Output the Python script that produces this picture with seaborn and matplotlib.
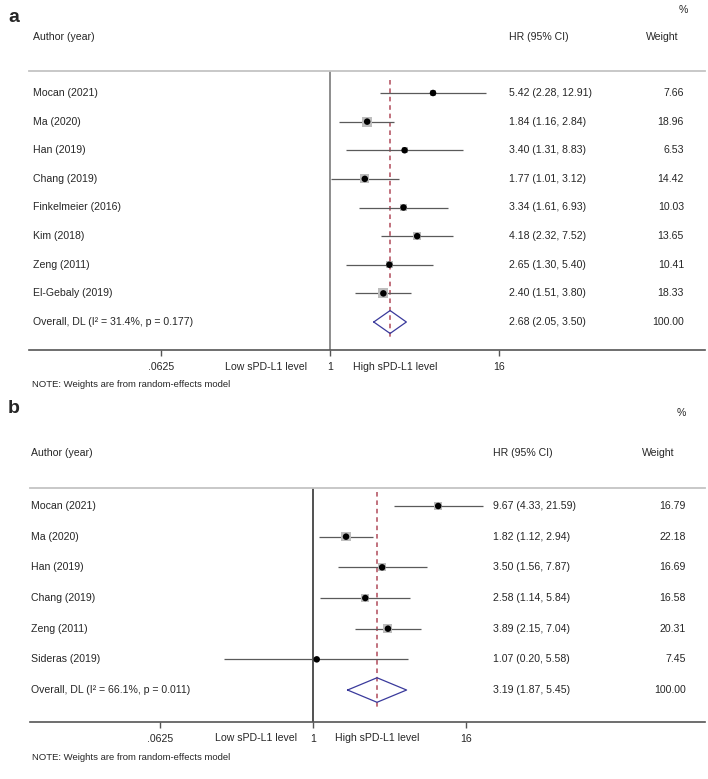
import matplotlib
matplotlib.use("Agg")
import matplotlib.pyplot as plt
import matplotlib.transforms as mtrans
from matplotlib.ticker import NullLocator
import pandas as pd
import seaborn as sns

# ---- panel a data ----
a_studies = ["Mocan (2021)", "Ma (2020)", "Han (2019)", "Chang (2019)",
             "Finkelmeier (2016)", "Kim (2018)", "Zeng (2011)", "El-Gebaly (2019)"]
a_hr = [5.42, 1.84, 3.40, 1.77, 3.34, 4.18, 2.65, 2.40]
a_lo = [2.28, 1.16, 1.31, 1.01, 1.61, 2.32, 1.30, 1.51]
a_hi = [12.91, 2.84, 8.83, 3.12, 6.93, 7.52, 5.40, 3.80]
a_weight = [7.66, 18.96, 6.53, 14.42, 10.03, 13.65, 10.41, 18.33]
a_overall = [2.68, 2.05, 3.50]
a_overall_label = "Overall, DL (I² = 31.4%, p = 0.177)"

# ---- panel b data ----
b_studies = ["Mocan (2021)", "Ma (2020)", "Han (2019)", "Chang (2019)",
             "Zeng (2011)", "Sideras (2019)"]
b_hr = [9.67, 1.82, 3.50, 2.58, 3.89, 1.07]
b_lo = [4.33, 1.12, 1.56, 1.14, 2.15, 0.20]
b_hi = [21.59, 2.94, 7.87, 5.84, 7.04, 5.58]
b_weight = [16.79, 22.18, 16.69, 16.58, 20.31, 7.45]
b_overall = [3.19, 1.87, 5.45]
b_overall_label = "Overall, DL (I² = 66.1%, p = 0.011)"

tick_values = [0.0625, 1, 16]
tick_labels = [".0625", "1", "16"]
low_label = "Low sPD-L1 level"
high_label = "High sPD-L1 level"
note = "NOTE: Weights are from random-effects model"

W, H = 708, 779
FS = 7.6

sns.set_style("white")
plt.rcParams["font.family"] = ["Liberation Sans", "DejaVu Sans"]

fig = plt.figure(figsize=(W / 100, H / 100), dpi=100)


def fx(px):
    return px / W


def fy(py):
    return 1 - py / H


def draw_panel(letter, studies, hr, lo, hi, weight, overall, overall_label, lay):
    left, right, top, bottom = lay["left"], lay["right"], lay["top"], lay["bottom"]
    ax = fig.add_axes([fx(left), fy(bottom), (right - left) / W, (bottom - top) / H])

    n = len(studies)
    df = pd.DataFrame({"hr": hr, "lo": lo, "hi": hi, "weight": weight,
                       "row": list(range(n))})

    # confidence intervals
    ax.hlines(df["row"], df["lo"], df["hi"], color="#5a5a5a", lw=0.9, zorder=2)
    # weight squares
    wmax = max(weight)
    sns.scatterplot(data=df, x="hr", y="row", size="weight",
                    sizes=(0, lay["sq"] * wmax), size_norm=(0, wmax),
                    marker="s", color="#bdbdbd", edgecolor="none",
                    legend=False, ax=ax, zorder=3)
    # point estimates
    sns.scatterplot(data=df, x="hr", y="row", color="black", s=22,
                    marker="o", edgecolor="none", legend=False, ax=ax, zorder=4)

    # overall diamond
    est, olo, ohi = overall
    ax.plot([olo, est, ohi, est, olo], [n, n - 0.4, n, n + 0.4, n],
            color="#3a3a9c", lw=0.9, zorder=4)
    # overall dashed line
    ax.plot([est, est], [-0.45, n + 0.55], color="#b04a5a", lw=1.1,
            dashes=(3, 2.5), zorder=1)
    # null line
    ax.axvline(1, color=lay["null_color"], lw=1.2, zorder=1)

    ax.set_xscale("log", base=2)
    ax.set_xlim(2 ** ((left - lay["one"]) / lay["dbl"]),
                2 ** ((right - lay["one"]) / lay["dbl"]))
    ax.set_ylim((bottom - lay["row0"]) / lay["step"], (top - lay["row0"]) / lay["step"])
    ax.set_xticks(tick_values)
    ax.set_xticklabels(tick_labels)
    ax.xaxis.set_minor_locator(NullLocator())
    ax.set_yticks([])
    ax.set_xlabel("")
    ax.set_ylabel("")
    ax.tick_params(axis="x", length=4, width=1, color="#555555", pad=5,
                   labelsize=FS, bottom=True)
    for s in ["left", "right"]:
        ax.spines[s].set_visible(False)
    ax.spines["top"].set_color("#c4c4c4")
    ax.spines["top"].set_linewidth(1.3)
    ax.spines["bottom"].set_color("#555555")
    ax.spines["bottom"].set_linewidth(1.2)

    tr = mtrans.blended_transform_factory(fig.transFigure, ax.transData)
    labels = studies + [overall_label]
    hr_text = [f"{h:.2f} ({l:.2f}, {u:.2f})" for h, l, u in zip(hr, lo, hi)]
    hr_text.append(f"{est:.2f} ({olo:.2f}, {ohi:.2f})")
    w_text = [f"{w:.2f}" for w in weight] + ["100.00"]
    for i in range(n + 1):
        ax.text(fx(lay["name_x"]), i, labels[i], transform=tr, fontsize=FS,
                va="center", ha="left")
        ax.text(fx(lay["hr_x"]), i, hr_text[i], transform=tr, fontsize=FS,
                va="center", ha="left")
        ax.text(fx(lay["w_x"]), i, w_text[i], transform=tr, fontsize=FS,
                va="center", ha="right")

    # headers
    fig.text(fx(8), fy(lay["letter_y"]), letter, fontsize=14, fontweight="bold",
             va="center", ha="left")
    fig.text(fx(lay["pct_x"]), fy(lay["pct_y"]), "%", fontsize=FS, va="center", ha="right")
    fig.text(fx(lay["name_x"]), fy(lay["head_y"]), "Author (year)", fontsize=FS, va="center")
    fig.text(fx(lay["hr_x"]), fy(lay["head_y"]), "HR (95% CI)", fontsize=FS, va="center")
    fig.text(fx(lay["wh_x"]), fy(lay["head_y"]), "Weight", fontsize=FS, va="center",
             ha="center")

    # direction labels and note
    fig.text(fx(lay["low_x"]), fy(lay["tick_y"]), low_label, fontsize=FS,
             va="center", ha="right")
    fig.text(fx(lay["high_x"]), fy(lay["tick_y"]), high_label, fontsize=FS,
             va="center", ha="left")
    fig.text(fx(32), fy(lay["note_y"]), note, fontsize=FS * 0.9, va="center", ha="left")
    return ax


lay_a = dict(left=29, right=705, top=71, bottom=350, one=330, dbl=42.25,
             row0=93, step=28.625, sq=2.8, null_color="#7a7a7a",
             name_x=33, hr_x=509, w_x=684, wh_x=662, pct_x=688,
             letter_y=17, pct_y=10, head_y=37, tick_y=367, note_y=384,
             low_x=307, high_x=353)
lay_b = dict(left=30, right=705, top=488, bottom=722, one=313, dbl=38.25,
             row0=506, step=30.67, sq=2.1, null_color="#333333",
             name_x=31, hr_x=493, w_x=686, wh_x=658, pct_x=686,
             letter_y=408, pct_y=413, head_y=453, tick_y=738, note_y=757,
             low_x=297, high_x=335)

draw_panel("a", a_studies, a_hr, a_lo, a_hi, a_weight, a_overall, a_overall_label, lay_a)
draw_panel("b", b_studies, b_hr, b_lo, b_hi, b_weight, b_overall, b_overall_label, lay_b)

fig.savefig("out.png", dpi=100)
